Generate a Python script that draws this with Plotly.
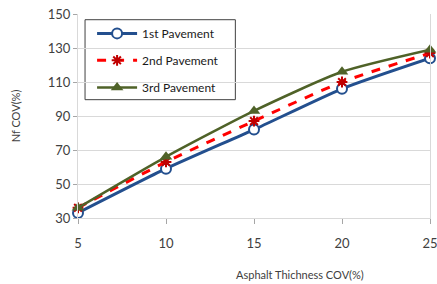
import plotly.graph_objects as go

x_vals = [5, 10, 15, 20, 25]
pav1 = [33, 59, 82, 106, 124]
pav2 = [36, 63, 87, 110, 127]
pav3 = [36, 66, 93, 116, 129]
names = ["1st Pavement", "2nd Pavement", "3rd Pavement"]
y_ticks = [30, 50, 70, 90, 110, 130, 150]

FONT = "Lato, Open Sans, sans-serif"
TXT = "#404040"

fig = go.Figure()
fig.add_trace(go.Scatter(x=x_vals, y=pav1, name=names[0], mode="lines+markers",
                         line=dict(color="#234F8E", width=3, shape="spline", smoothing=0.6),
                         marker=dict(symbol="circle", size=10, color="white",
                                     line=dict(color="#234F8E", width=2)),
                         cliponaxis=False, legend="legend"))
fig.add_trace(go.Scatter(x=x_vals, y=pav2, name=names[1], mode="lines+markers",
                         line=dict(color="#FF0000", width=3, dash="dash", shape="spline", smoothing=0.6),
                         marker=dict(symbol="asterisk", size=9, color="#FF0000",
                                     line=dict(color="#C00000", width=2)),
                         cliponaxis=False, legend="legend2"))
fig.add_trace(go.Scatter(x=x_vals, y=pav3, name=names[2], mode="lines+markers",
                         line=dict(color="#4F6228", width=2.5, shape="spline", smoothing=0.6),
                         marker=dict(symbol="triangle-up", size=11, color="#4F6228"),
                         cliponaxis=False, legend="legend3"))

leg_common = dict(bgcolor="rgba(0,0,0,0)", borderwidth=0, itemwidth=40,
                  font=dict(family=FONT, size=12, color="#1a1a1a"),
                  xanchor="left", yanchor="middle", x=0.04)
fig.update_layout(
    legend=dict(**leg_common, y=0.905),
    legend2=dict(**leg_common, y=0.773),
    legend3=dict(**leg_common, y=0.64),
)

fig.add_shape(type="rect", xref="paper", yref="paper",
              x0=0.02, x1=0.447, y0=0.58, y1=0.972,
              line=dict(color="#404040", width=1), fillcolor="white", layer="below")

fig.update_layout(
    width=437, height=284,
    margin=dict(l=78, r=7, t=14, b=66, autoexpand=False),
    paper_bgcolor="white", plot_bgcolor="white",
    font=dict(family=FONT, color=TXT),
    showlegend=True,
    xaxis=dict(range=[5, 25], tickvals=x_vals, ticks="outside", ticklen=5,
               tickcolor="#A6A6A6", showgrid=False, zeroline=False,
               showline=True, linecolor="#D9D9D9", mirror=False,
               ticklabeloverflow="allow", ticklabelstandoff=8,
               tickfont=dict(family=FONT, size=13, color=TXT)),
    yaxis=dict(range=[30, 150], tickvals=y_ticks, ticks="outside", ticklen=4,
               tickcolor="#A6A6A6", showgrid=True, gridcolor="#D9D9D9",
               zeroline=False, showline=True, linecolor="#D9D9D9", mirror=True,
               tickfont=dict(family=FONT, size=13, color=TXT),
               title=dict(text="Nf COV(%)", font=dict(family=FONT, size=11, color=TXT),
                          standoff=24)),
)
fig.add_annotation(text="Asphalt Thichness COV(%)", xref="paper", yref="paper",
                   x=0.63, y=-0.275, showarrow=False, xanchor="center", yanchor="middle",
                   font=dict(family=FONT, size=11, color=TXT))

fig.write_html("out.html", config={"displayModeBar": False},
               post_script="document.body.style.margin='0';document.body.style.padding='0';")
